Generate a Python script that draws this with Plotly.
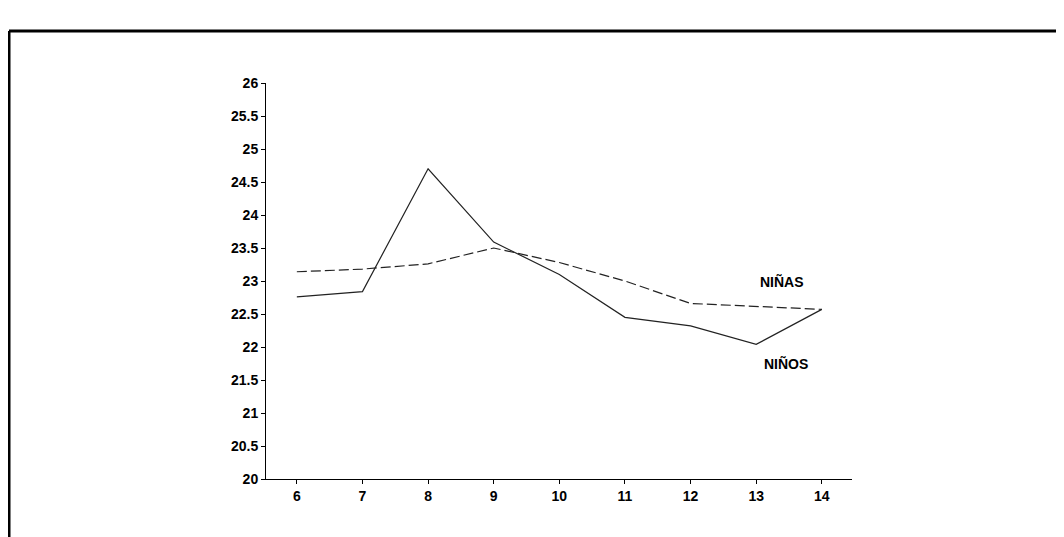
import plotly.graph_objects as go

edad = [6, 7, 8, 9, 10, 11, 12, 13, 14]
ninos = [22.76, 22.84, 24.70, 23.59, 23.10, 22.45, 22.32, 22.04, 22.57]
ninas = [23.14, 23.18, 23.26, 23.50, 23.28, 23.00, 22.66, 22.62, 22.57]

off = 8  # page body margin shifts the figure
W, H = 1064 - off, 537 - off
ml, mr, mt, mb = 266 - off, 212, 83 - off, 58
pw, ph = W - ml - mr, H - mt - mb

fig = go.Figure()
fig.add_trace(go.Scatter(x=edad, y=ninos, mode='lines', name='NIÑOS',
                         line=dict(color='#222222', width=1.2)))
fig.add_trace(go.Scatter(x=edad, y=ninas, mode='lines', name='NIÑAS',
                         line=dict(color='#222222', width=1.2, dash='10px,4px')))

lab_font = dict(family='Liberation Sans', size=14, color='black', weight='bold')
fig.add_annotation(x=13.4, y=23.0, text='NIÑAS', showarrow=False,
                   xanchor='center', yanchor='middle', font=lab_font)
fig.add_annotation(x=13.45, y=21.75, text='NIÑOS', showarrow=False,
                   xanchor='center', yanchor='middle', font=lab_font)

# scanned page frame: top and left edges
fx = (9 - off - ml) / pw
fy = 1 + (mt - (31 - off)) / ph
fig.add_shape(type='line', xref='paper', yref='paper', x0=fx, x1=(W - ml) / pw + 0.01,
              y0=fy, y1=fy, line=dict(color='black', width=3))
fig.add_shape(type='line', xref='paper', yref='paper', x0=fx, x1=fx,
              y0=fy, y1=-mb / ph - 0.01, line=dict(color='black', width=3))

tick_font = dict(family='Liberation Sans', size=14, color='black', weight='bold')
fig.update_xaxes(range=[5.53, 14.46], tickvals=edad, showgrid=False, zeroline=False,
                 showline=True, linecolor='black', linewidth=1,
                 ticks='outside', ticklen=4, tickcolor='black', tickfont=tick_font)
fig.update_yaxes(range=[20, 26], dtick=0.5, tick0=20, showgrid=False, zeroline=False,
                 showline=True, linecolor='black', linewidth=1,
                 ticks='outside', ticklen=4, tickcolor='black', tickfont=tick_font)
fig.update_layout(width=W, height=H, showlegend=False,
                  margin=dict(l=ml, r=mr, t=mt, b=mb),
                  plot_bgcolor='white', paper_bgcolor='white')

fig.write_html('out.html')
